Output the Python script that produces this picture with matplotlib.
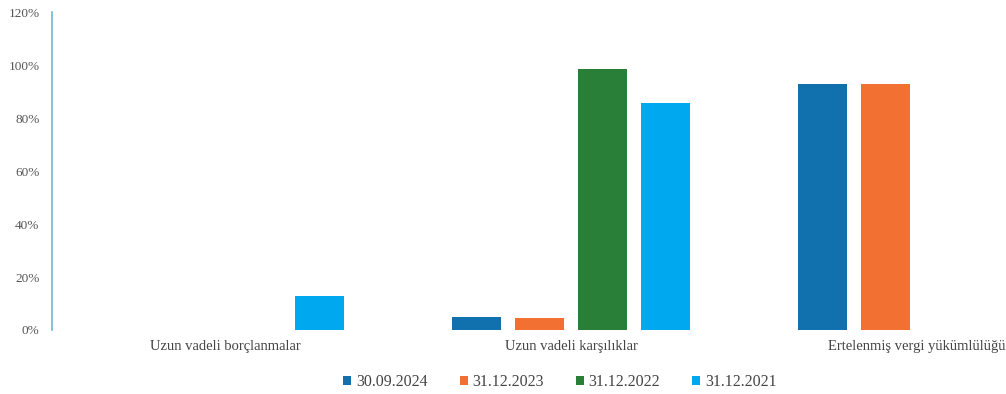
import numpy as np
import matplotlib
matplotlib.use('Agg')
import matplotlib.pyplot as plt

categories = ['Uzun vadeli borçlanmalar', 'Uzun vadeli karşılıklar', 'Ertelenmiş vergi yükümlülüğü']
series_names = ['30.09.2024', '31.12.2023', '31.12.2022', '31.12.2021']
v_2024_09 = [0, 4.9, 93.0]
v_2023_12 = [0, 4.5, 93.0]
v_2022_12 = [0, 98.5, 0]
v_2021_12 = [12.8, 85.7, 0]
colors = ['#1170ae', '#f27132', '#2a7f38', '#00a9ef']
yticks = [0, 20, 40, 60, 80, 100, 120]

plt.rcParams['font.family'] = ['Liberation Serif', 'DejaVu Serif']

fig = plt.figure(figsize=(10.06, 3.94), dpi=100)
# axes run past the right edge, as in the cropped original
ax = fig.add_axes([52 / 1006, 64 / 394, 1038 / 1006, 318 / 394])

x = np.arange(len(categories))
step = 0.182
width = 0.142
all_vals = [v_2024_09, v_2023_12, v_2022_12, v_2021_12]
for i, (vals, name, c) in enumerate(zip(all_vals, series_names, colors)):
    ax.bar(x + (i - 1.5) * step, vals, width, color=c, label=name)

ax.set_xlim(-0.5, 2.5)
ax.set_ylim(0, 120)
ax.set_yticks(yticks)
ax.set_yticklabels([f'{t}%' for t in yticks], fontsize=9.5, color='#555555')
ax.set_xticks(x)
ax.set_xticklabels(categories, fontsize=10.5, color='#444444')
ax.tick_params(length=0, axis='y', pad=9)
ax.tick_params(length=0, axis='x', pad=7)

for s in ['top', 'right', 'bottom']:
    ax.spines[s].set_visible(False)
ax.spines['left'].set_color('#6cbad3')
ax.spines['left'].set_linewidth(1.2)

handles, labels = ax.get_legend_handles_labels()
fig.legend(handles, labels, loc='center', bbox_to_anchor=(560 / 1006, 12 / 394),
           ncol=4, frameon=False, fontsize=11.5, handlelength=0.5, handleheight=0.5,
           handletextpad=0.3, columnspacing=2.0, labelcolor='#444444')

fig.savefig('out.png', dpi=100)
